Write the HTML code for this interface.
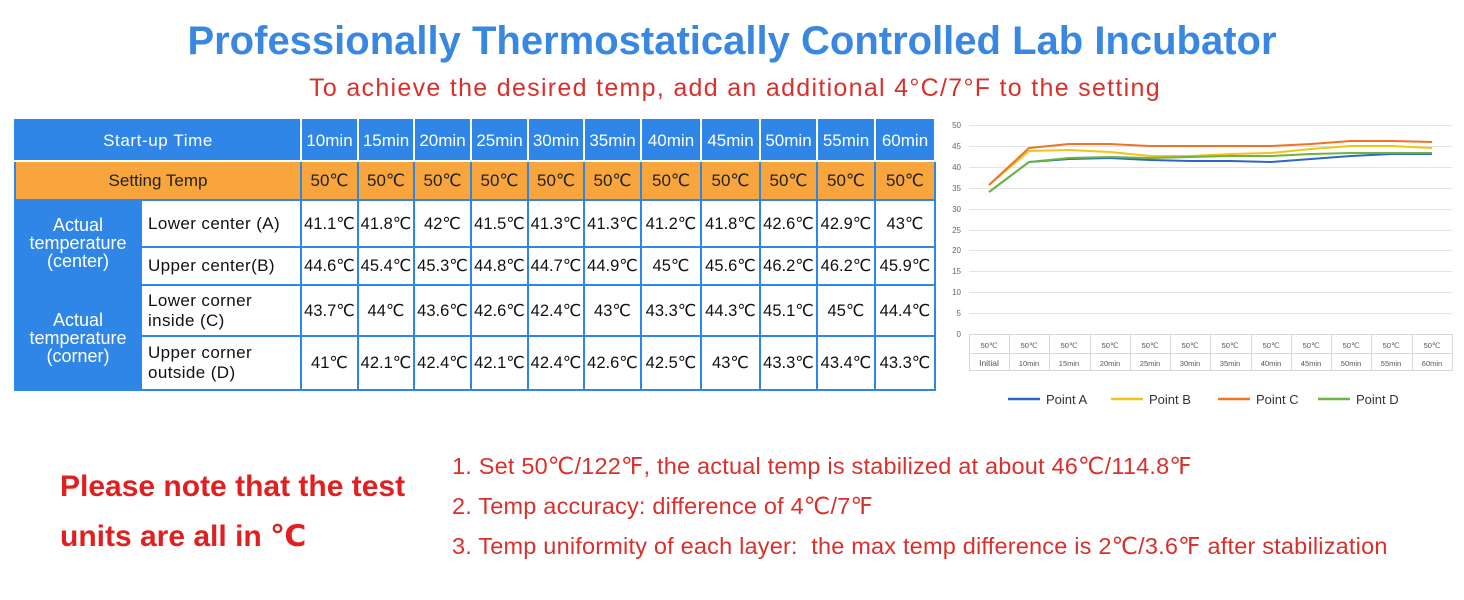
<!DOCTYPE html>
<html><head><meta charset="utf-8"><style>
body{margin:0;width:1464px;height:600px;background:#fff;position:relative;overflow:hidden;font-family:"Liberation Sans","DejaVu Sans",sans-serif}
.abs{position:absolute;white-space:nowrap}
table{position:absolute;left:14px;top:119px;border-collapse:collapse;background:#2f86e6}
td{border:2px solid #2f86e6;padding:0;text-align:center;font-size:16.5px;color:#111;background:#fff;white-space:nowrap}
.h td{background:#2f86e6;color:#fff;border-color:#fff;border-top-color:#2f86e6;font-size:17px}
.h td:first-child{border-left-color:#2f86e6;letter-spacing:0.6px}
.o td{background:#f7a53c;color:#222;font-size:17px}
.b{background:#2f86e6!important;color:#fff!important;line-height:18px;font-size:18px}
.l{text-align:left;padding-left:6px;line-height:20px;font-size:17px;letter-spacing:0.4px}
</style></head><body>
<div class="abs" style="left:0;width:1464px;text-align:center;top:19px;font-size:40px;font-weight:bold;color:#3a87e2">Professionally Thermostatically Controlled Lab Incubator</div>
<div class="abs" style="left:0;width:1470px;text-align:center;top:74px;font-size:25px;color:#d9302c;letter-spacing:1.3px">To achieve the desired temp, add an additional 4°C/7°F to the setting</div>
<table>
<tr class="h" style="height:41px"><td colspan="2" style="width:284px">Start-up Time</td><td style="width:55px">10min</td><td style="width:54px">15min</td><td style="width:55px">20min</td><td style="width:55px">25min</td><td style="width:54px">30min</td><td style="width:55px">35min</td><td style="width:58px">40min</td><td style="width:57px">45min</td><td style="width:55px">50min</td><td style="width:56px">55min</td><td style="width:58px">60min</td></tr>
<tr class="o" style="height:39px"><td colspan="2">Setting Temp</td><td>50℃</td><td>50℃</td><td>50℃</td><td>50℃</td><td>50℃</td><td>50℃</td><td>50℃</td><td>50℃</td><td>50℃</td><td>50℃</td><td>50℃</td></tr>
<tr style="height:47px"><td rowspan="2" class="b" style="width:124px">Actual<br>temperature<br>(center)</td><td class="l">Lower center (A)</td><td>41.1℃</td><td>41.8℃</td><td>42℃</td><td>41.5℃</td><td>41.3℃</td><td>41.3℃</td><td>41.2℃</td><td>41.8℃</td><td>42.6℃</td><td>42.9℃</td><td>43℃</td></tr>
<tr style="height:38px"><td class="l">Upper center(B)</td><td>44.6℃</td><td>45.4℃</td><td>45.3℃</td><td>44.8℃</td><td>44.7℃</td><td>44.9℃</td><td>45℃</td><td>45.6℃</td><td>46.2℃</td><td>46.2℃</td><td>45.9℃</td></tr>
<tr style="height:51px"><td rowspan="2" class="b">Actual<br>temperature<br>(corner)</td><td class="l">Lower corner<br>inside (C)</td><td>43.7℃</td><td>44℃</td><td>43.6℃</td><td>42.6℃</td><td>42.4℃</td><td>43℃</td><td>43.3℃</td><td>44.3℃</td><td>45.1℃</td><td>45℃</td><td>44.4℃</td></tr>
<tr style="height:54px"><td class="l">Upper corner<br>outside (D)</td><td>41℃</td><td>42.1℃</td><td>42.4℃</td><td>42.1℃</td><td>42.4℃</td><td>42.6℃</td><td>42.5℃</td><td>43℃</td><td>43.3℃</td><td>43.4℃</td><td>43.3℃</td></tr>
</table>
<svg class="abs" style="left:0;top:0" width="1464" height="600" font-family="Liberation Sans, sans-serif">
<g stroke="#e4e4e4" stroke-width="1">
<line x1="969" x2="1452" y1="125.5" y2="125.5"/><line x1="969" x2="1452" y1="146.5" y2="146.5"/><line x1="969" x2="1452" y1="167.5" y2="167.5"/><line x1="969" x2="1452" y1="188.5" y2="188.5"/><line x1="969" x2="1452" y1="209.5" y2="209.5"/><line x1="969" x2="1452" y1="230.5" y2="230.5"/><line x1="969" x2="1452" y1="250.5" y2="250.5"/><line x1="969" x2="1452" y1="271.5" y2="271.5"/><line x1="969" x2="1452" y1="292.5" y2="292.5"/><line x1="969" x2="1452" y1="313.5" y2="313.5"/>
</g>
<g fill="#666" font-size="8" text-anchor="end">
<text x="961" y="128">50</text><text x="961" y="149">45</text><text x="961" y="170">40</text><text x="961" y="191">35</text><text x="961" y="212">30</text><text x="961" y="233">25</text><text x="961" y="253">20</text><text x="961" y="274">15</text><text x="961" y="295">10</text><text x="961" y="316">5</text><text x="961" y="337">0</text>
</g>
<g stroke="#d8d8d8" stroke-width="1" fill="none">
<rect x="969.5" y="334.5" width="483" height="36"/><line x1="969" x2="1452" y1="353.5" y2="353.5"/>
<path d="M1009.5 334v37M1049.5 334v37M1090.5 334v37M1130.5 334v37M1170.5 334v37M1210.5 334v37M1251.5 334v37M1291.5 334v37M1331.5 334v37M1371.5 334v37M1412.5 334v37"/>
</g>
<g fill="#555" font-size="7.5" text-anchor="middle">
<text x="989" y="348">50℃</text><text x="1029" y="348">50℃</text><text x="1069" y="348">50℃</text><text x="1110" y="348">50℃</text><text x="1150" y="348">50℃</text><text x="1190" y="348">50℃</text><text x="1230" y="348">50℃</text><text x="1271" y="348">50℃</text><text x="1311" y="348">50℃</text><text x="1351" y="348">50℃</text><text x="1391" y="348">50℃</text><text x="1432" y="348">50℃</text>
<text x="989" y="366" font-size="8.5">Initial</text><text x="1029" y="366">10min</text><text x="1069" y="366">15min</text><text x="1110" y="366">20min</text><text x="1150" y="366">25min</text><text x="1190" y="366">30min</text><text x="1230" y="366">35min</text><text x="1271" y="366">40min</text><text x="1311" y="366">45min</text><text x="1351" y="366">50min</text><text x="1391" y="366">55min</text><text x="1432" y="366">60min</text>
</g>
<g fill="none" stroke-width="2" stroke-linejoin="round">
<polyline stroke="#2f64c8" points="989,192 1029,162 1069,159 1110,158 1150,160 1190,161 1230,161 1271,162 1311,159 1351,156 1391,154 1432,154"/>
<polyline stroke="#f5c21a" points="989,185 1029,151 1069,150 1110,152 1150,156 1190,156 1230,154 1271,153 1311,149 1351,146 1391,146 1432,148"/>
<polyline stroke="#ee7324" points="989,185 1029,148 1069,144 1110,144 1150,146 1190,146 1230,146 1271,146 1311,144 1351,141 1391,141 1432,142"/>
<polyline stroke="#6cb43c" points="989,192 1029,162 1069,158 1110,157 1150,158 1190,157 1230,156 1271,156 1311,154 1351,153 1391,153 1432,153"/>
</g>
<g stroke-width="2.5"><line x1="1008" x2="1040" y1="399" y2="399" stroke="#2f64c8"/><line x1="1111" x2="1143" y1="399" y2="399" stroke="#f5c21a"/><line x1="1218" x2="1250" y1="399" y2="399" stroke="#ee7324"/><line x1="1318" x2="1350" y1="399" y2="399" stroke="#6cb43c"/></g>
<g fill="#333" font-size="13"><text x="1046" y="404">Point A</text><text x="1149" y="404">Point B</text><text x="1256" y="404">Point C</text><text x="1356" y="404">Point D</text></g>
</svg>
<div class="abs" style="left:60px;top:462px;font-size:30px;font-weight:bold;color:#e02020;line-height:50px">Please note that the test<br>units are all in ℃</div>
<div class="abs" style="left:452px;top:446px;font-size:23.5px;letter-spacing:0.2px;color:#d9302c;line-height:40px">1. Set 50℃/122℉, the actual temp is stabilized at about 46℃/114.8℉<br>2. Temp accuracy: difference of 4℃/7℉<br>3. Temp uniformity of each layer:&nbsp; the max temp difference is 2℃/3.6℉ after stabilization</div>
</body></html>
